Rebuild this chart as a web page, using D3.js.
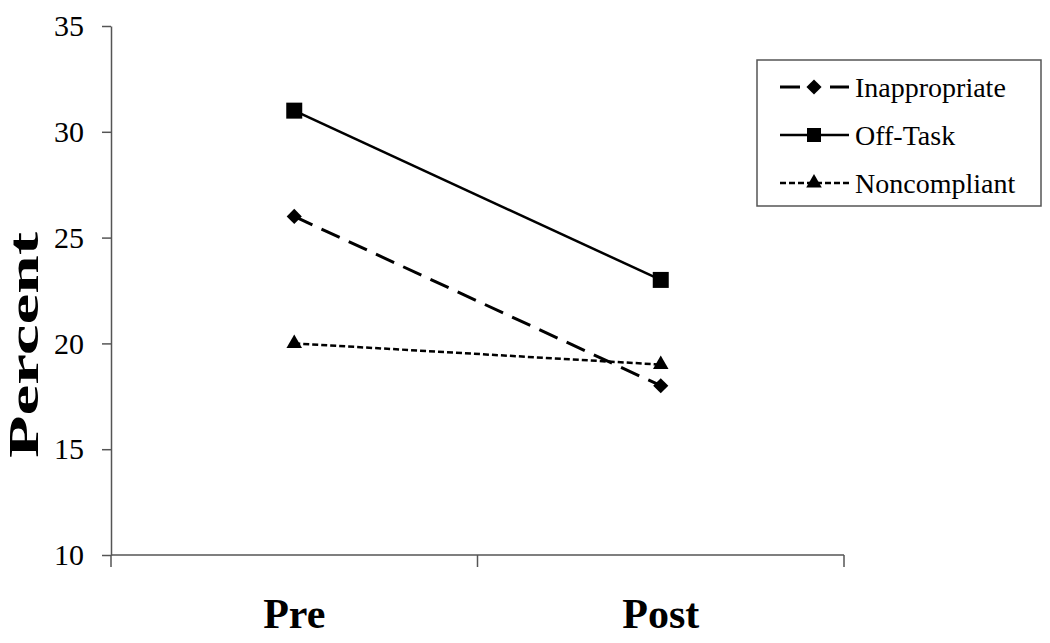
<!DOCTYPE html>
<html>
<head>
<meta charset="utf-8">
<script src="https://cdn.jsdelivr.net/npm/d3@7"></script>
<style>
  body { margin: 0; background: #fff; }
  svg text { font-family: 'Liberation Serif', 'Times New Roman', Times, serif; }
</style>
</head>
<body>
<div id="chart"></div>
<script>
// phases and percentages
const categories = ['Pre', 'Post'];
const seriesNames = ['Inappropriate', 'Off-Task', 'Noncompliant'];
const inappropriate = [26, 18];
const offTask = [31, 23];
const noncompliant = [20, 19];
const yTicks = [10, 15, 20, 25, 30, 35];

const width = 1050,
  height = 643;

const series = [
  { name: seriesNames[0], values: inappropriate, dash: '20,10', legendDash: '20,30', shape: 'diamond', lw: 3 },
  { name: seriesNames[1], values: offTask, dash: null, legendDash: null, shape: 'square', lw: 2.5 },
  { name: seriesNames[2], values: noncompliant, dash: '6,3', legendDash: '6,3', shape: 'triangle', lw: 2.5 }
];

const x = d3.scaleBand()
  .domain(categories)
  .range([111, 844])
  .padding(0);

const y = d3.scaleLinear()
  .domain([10, 35])
  .range([555, 26]);

const axisColor = '#555';
const serif = "'Liberation Serif', 'Times New Roman', Times, serif";

// marker path generators
const markers = {
  square: d3.symbol().type(d3.symbolSquare).size(256),
  diamond: d3.symbol().type(d3.symbolSquare).size(115),
  triangle: d3.symbol().type(d3.symbolTriangle).size(105)
};
const markerRotate = { square: 0, diamond: 45, triangle: 0 };

function chart() {
  const svg = d3.select('#chart').append('svg')
    .attr('width', width)
    .attr('height', height)
    .attr('font-family', serif);

  // y axis
  const yAxis = svg.append('g')
    .attr('transform', 'translate(111,0)')
    .call(d3.axisLeft(y).tickValues(yTicks).tickSize(9).tickSizeOuter(0).tickPadding(18))
    .attr('font-family', serif)
    .attr('font-size', 30);
  yAxis.select('.domain').attr('stroke', axisColor).attr('stroke-width', 1.5);
  yAxis.selectAll('.tick line').attr('stroke', axisColor).attr('stroke-width', 1.5);
  yAxis.selectAll('.tick text')
    .attr('fill', '#000')
    .attr('font-family', serif)
    .style('font-size', '30px');

  // x axis: line plus ticks on the band edges
  const bottom = y(10);
  svg.append('line')
    .attr('x1', x.range()[0]).attr('x2', x.range()[1])
    .attr('y1', bottom).attr('y2', bottom)
    .attr('stroke', axisColor).attr('stroke-width', 1.5);

  const edges = [x.range()[0]].concat(categories.map(c => x(c) + x.bandwidth()));
  svg.selectAll('.xtick')
    .data(edges)
    .enter().append('line')
    .attr('class', 'xtick')
    .attr('x1', d => d).attr('x2', d => d)
    .attr('y1', bottom).attr('y2', bottom + 12)
    .attr('stroke', axisColor).attr('stroke-width', 1.5);

  svg.selectAll('.xlabel')
    .data(categories)
    .enter().append('text')
    .attr('class', 'xlabel')
    .attr('x', d => x(d) + x.bandwidth() / 2)
    .attr('y', 628)
    .attr('text-anchor', 'middle')
    .style('font-size', '42px')
    .style('font-weight', 'bold')
    .text(d => d);

  // y title
  svg.append('text')
    .attr('transform', 'translate(37.5,345) rotate(-90)')
    .attr('text-anchor', 'middle')
    .attr('textLength', 226)
    .attr('lengthAdjust', 'spacingAndGlyphs')
    .style('font-size', '42px')
    .style('font-weight', 'bold')
    .text('Percent');

  const cx = c => x(c) + x.bandwidth() / 2;
  const line = d3.line()
    .x((d, i) => cx(categories[i]))
    .y(d => y(d));

  svg.selectAll('.series-line')
    .data(series)
    .enter().append('path')
    .attr('class', 'series-line')
    .attr('d', d => line(d.values))
    .attr('fill', 'none')
    .attr('stroke', '#000')
    .attr('stroke-width', d => d.lw)
    .attr('stroke-dasharray', d => d.dash);

  series.forEach(s => {
    svg.selectAll(null)
      .data(s.values)
      .enter().append('path')
      .attr('transform', (d, i) => `translate(${cx(categories[i])},${y(d)}) rotate(${markerRotate[s.shape]})`)
      .attr('d', markers[s.shape]())
      .attr('fill', '#000');
  });

  // legend
  const legend = svg.append('g');
  legend.append('rect')
    .attr('x', 757).attr('y', 60)
    .attr('width', 284).attr('height', 146)
    .attr('fill', '#fff')
    .attr('stroke', axisColor)
    .attr('stroke-width', 1.5);

  const row = legend.selectAll('.row')
    .data(series)
    .enter().append('g')
    .attr('class', 'row')
    .attr('transform', (d, i) => `translate(0,${87 + i * 48})`);

  row.append('line')
    .attr('x1', 780).attr('x2', 849)
    .attr('y1', 0).attr('y2', 0)
    .attr('stroke', '#000')
    .attr('stroke-width', d => d.lw)
    .attr('stroke-dasharray', d => d.legendDash);

  row.append('path')
    .attr('transform', d => `translate(814,0) rotate(${markerRotate[d.shape]})`)
    .attr('d', d => d.shape === 'square'
      ? d3.symbol().type(d3.symbolSquare).size(196)()
      : markers[d.shape]())
    .attr('fill', '#000');

  row.append('text')
    .attr('x', 855)
    .attr('dy', '0.35em')
    .style('font-size', '28px')
    .text(d => d.name);

  return svg.node();
}

chart();
</script>
</body>
</html>
